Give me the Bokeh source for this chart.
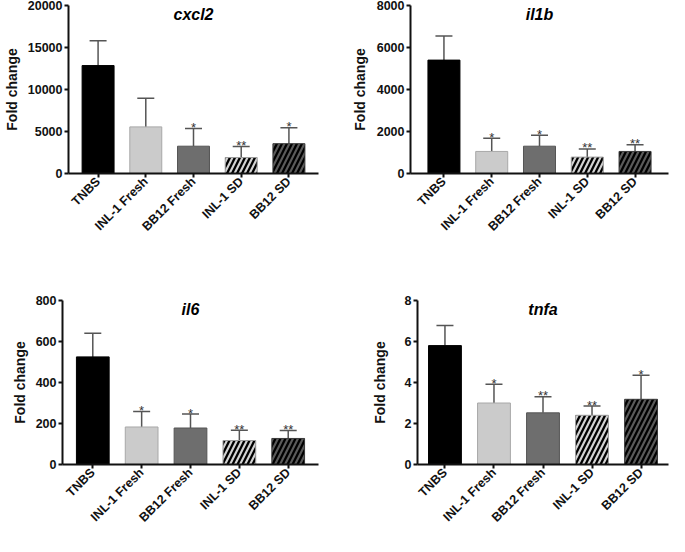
import math
from bokeh.plotting import figure
from bokeh.layouts import column, row
from bokeh.models import ColumnDataSource, Whisker, TeeHead, Range1d, FactorRange
from bokeh.core.properties import value
from bokeh.embed import file_html
from bokeh.resources import INLINE

categories = ["TNBS", "INL-1 Fresh", "BB12 Fresh", "INL-1 SD", "BB12 SD"]

cxcl2_mean = [12850, 5550, 3250, 1900, 3550]
cxcl2_upper = [15800, 8950, 5350, 3200, 5450]
cxcl2_sig = ["", "", "*", "**", "*"]
cxcl2_ticks = [0, 5000, 10000, 15000, 20000]

il1b_mean = [5400, 1050, 1300, 780, 1050]
il1b_upper = [6550, 1680, 1820, 1170, 1370]
il1b_sig = ["", "*", "*", "**", "**"]
il1b_ticks = [0, 2000, 4000, 6000, 8000]

il6_mean = [525, 183, 178, 117, 127]
il6_upper = [640, 258, 246, 167, 166]
il6_sig = ["", "*", "*", "**", "**"]
il6_ticks = [0, 200, 400, 600, 800]

tnfa_mean = [5.8, 3.0, 2.52, 2.4, 3.18]
tnfa_upper = [6.78, 3.92, 3.3, 2.85, 4.35]
tnfa_sig = ["", "*", "**", "**", "*"]
tnfa_ticks = [0, 2, 4, 6, 8]

bar_fill = ["#000000", "#cbcbcb", "#6e6e6e", "#d2d2d2", "#5a5a5a"]
bar_line = ["#000000", "#a8a8a8", "#555555", "#9a9a9a", "#3a3a3a"]
bar_hatch = [" ", " ", " ", "/", "/"]

FONT = "Liberation Sans"


def make_panel(title, mean, upper, sig, ticks, width, height, bl, bt, bb, br, pad, lab_standoff):
    src = ColumnDataSource(dict(cat=categories, mean=mean, upper=upper, sig=sig,
                                fill=bar_fill, line=bar_line, hatch=bar_hatch))
    ymax = ticks[-1]
    p = figure(width=width, height=height, output_backend="svg", toolbar_location=None,
               x_range=FactorRange(*categories, range_padding=pad, range_padding_units="absolute"),
               y_range=Range1d(0, ymax),
               min_border_left=bl, min_border_top=bt, min_border_bottom=bb, min_border_right=br)
    p.vbar(x="cat", top="mean", bottom=0, width=0.67, source=src,
           fill_color="fill", line_color="line", line_width=1,
           hatch_pattern="hatch", hatch_color="#000000", hatch_scale=10, hatch_weight=2.3)
    w = Whisker(source=src, base="cat", upper="upper", lower="mean",
                line_color="#555555", line_width=1.5,
                upper_head=TeeHead(size=17, line_color="#555555", line_width=1.5),
                lower_head=None)
    p.add_layout(w)
    p.text(x="cat", y="upper", text="sig", source=src, text_align="center",
           text_baseline="alphabetic", y_offset=-1, text_font=value(FONT),
           text_font_size="13px", text_color="#333333")
    p.text(x=[categories[2]], y=[ymax], text=[title], y_offset=9, text_align="center",
           text_baseline="middle", text_font=value(FONT), text_font_size="16px",
           text_font_style="bold italic", text_color="#000000")

    p.xgrid.grid_line_color = None
    p.ygrid.grid_line_color = None
    p.outline_line_color = None

    for ax in (p.xaxis, p.yaxis):
        ax.axis_line_width = 2
        ax.axis_line_color = "#111111"
        ax.major_tick_line_width = 2
        ax.major_tick_line_color = "#111111"
        ax.major_tick_in = 0
        ax.major_tick_out = 4
        ax.minor_tick_line_color = None
        ax.major_label_text_font = FONT
        ax.major_label_text_font_style = "bold"
        ax.major_label_text_font_size = "12.5px"
        ax.major_label_text_color = "#111111"

    p.xaxis.major_label_orientation = math.pi / 4
    p.xaxis.major_label_standoff = 2
    p.yaxis.ticker = ticks
    p.yaxis.major_label_standoff = 2
    p.yaxis.axis_label = "Fold change"
    p.yaxis.axis_label_text_font = FONT
    p.yaxis.axis_label_text_font_style = "bold"
    p.yaxis.axis_label_text_font_size = "14px"
    p.yaxis.axis_label_text_color = "#111111"
    p.yaxis.axis_label_standoff = lab_standoff
    return p


p1 = make_panel("cxcl2", cxcl2_mean, cxcl2_upper, cxcl2_sig, cxcl2_ticks,
                338, 292, 62, 5, 119, 20, 0.12, 5)
p2 = make_panel("il1b", il1b_mean, il1b_upper, il1b_sig, il1b_ticks,
                331, 292, 72, 5, 119, 1, 0.2, 6)
p3 = make_panel("il6", il6_mean, il6_upper, il6_sig, il6_ticks,
                338, 240, 62, 8, 67, 20, 0.12, 5)
p4 = make_panel("tnfa", tnfa_mean, tnfa_upper, tnfa_sig, tnfa_ticks,
                331, 240, 79, 8, 67, 1, 0.06, 14)

layout = column(row(p1, p2), row(p3, p4))

open("out.html", "w").write(file_html(layout, INLINE))
